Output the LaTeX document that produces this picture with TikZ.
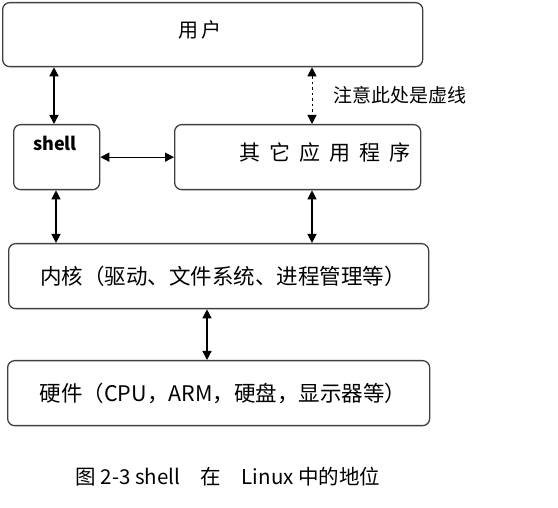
\documentclass[tikz,border=0pt]{standalone}
\usepackage{fontspec}
\setmainfont{Noto Sans CJK SC}
\usetikzlibrary{arrows.meta}
\begin{document}
\begin{tikzpicture}[x=1pt,y=-1pt,
  box/.style={draw=black!75, line width=1.3pt, rounded corners=7pt, inner sep=0pt, anchor=north west},
  txt/.style={inner sep=0pt, font=\fontsize{20}{22}\selectfont},
  conn/.style={{Triangle[length=9pt,width=9pt]}-{Triangle[length=9pt,width=9pt]}, line width=1.2pt},
  dconn/.style={{Triangle[length=9pt,width=9pt]}-{Triangle[length=9pt,width=9pt]}, line width=1pt, dash pattern=on 2.5pt off 3pt}]
\useasboundingbox (0,0) rectangle (558,508);
% boxes
\node[box, minimum width=420pt, minimum height=64pt] (user) at (2,2) {};
\node[box, minimum width=86pt, minimum height=65pt] (shell) at (13,124) {};
\node[box, minimum width=246pt, minimum height=65pt] (apps) at (174,124) {};
\node[box, minimum width=420pt, minimum height=65pt] (kernel) at (8,243) {};
\node[box, minimum width=422pt, minimum height=65pt] (hw) at (7,360) {};
% texts
\node[txt] (usertxt) at (200,30) {用\hspace{3pt}户};
\node[txt, font=\bfseries\fontsize{18}{20}\selectfont] (shelltxt) at (55,143) {shell};
\node[txt, font=\fontsize{21}{24}\selectfont] (appstxt) at (325,153) {其\hspace{9pt}它\hspace{9pt}应\hspace{9pt}用\hspace{9pt}程\hspace{9pt}序};
\node[txt, font=\fontsize{21.5}{24}\selectfont] (kerneltxt) at (223,276) {内核（驱动、文件系统、进程管理等）};
\node[txt, font=\fontsize{21.5}{24}\selectfont] (hwtxt) at (223,393) {硬件（CPU，ARM，硬盘，显示器等）};
\node[txt, anchor=west, font=\fontsize{19}{22}\selectfont] (note) at (333,95) {注意此处是虚线};
\node[txt, font=\fontsize{20.5}{23}\selectfont] (caption) at (228,477) {图 2-3 shell\quad 在\quad Linux 中的地位};
% x positions of vertical connectors
\coordinate (xa) at (54,0);
\coordinate (xb) at (312,0);
\coordinate (xc) at (56,0);
\coordinate (xd) at (207,0);
% connectors
\draw[conn, line width=1.6pt] (user.south -| xa) -- (shell.north -| xa);
\draw[dconn] (user.south -| xb) -- (apps.north -| xb);
\draw[conn] (shell.east) -- (apps.west);
\draw[conn] (shell.south -| xc) -- (kernel.north -| xc);
\draw[conn] (apps.south -| xb) -- (kernel.north -| xb);
\draw[conn] (kernel.south -| xd) -- (hw.north -| xd);
\end{tikzpicture}
\end{document}
